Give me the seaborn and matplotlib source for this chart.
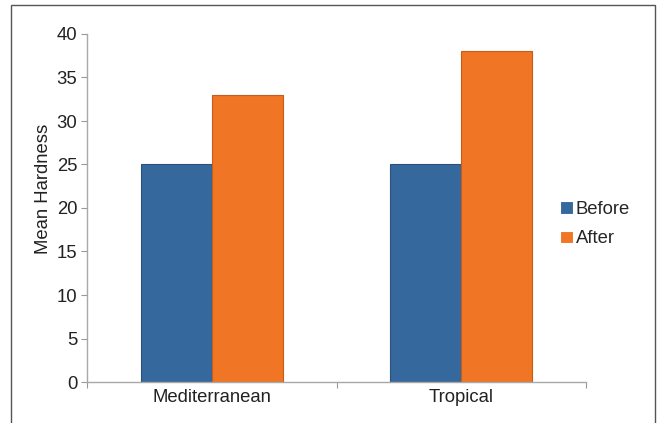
import pandas as pd
import matplotlib.pyplot as plt
import seaborn as sns
from matplotlib.patches import Rectangle

# Datos
regions = ['Mediterranean', 'Tropical']
periods = ['Before', 'After']
before = [25, 25]
after = [33, 38]

df = pd.DataFrame({
    'Region': regions * 2,
    'Period': ['Before'] * 2 + ['After'] * 2,
    'Hardness': before + after,
})

sns.set_style('white')
plt.rcParams['font.family'] = ['Liberation Sans', 'DejaVu Sans']

colors = ['#35689c', '#f07524']
edges = ['#2a527b', '#c45c1a']
fs = 13.3

fig = plt.figure(figsize=(6.57, 4.23), dpi=100)
ax = fig.add_axes([87/657, 1 - 382/423, (586 - 87)/657, (382 - 34)/423])

sns.barplot(data=df, x='Region', y='Hardness', hue='Period', hue_order=periods,
            palette=colors, saturation=1, width=0.57, gap=0, ax=ax, linewidth=0.8)

# bordes algo mas oscuros
for cont, ec in zip(ax.containers, edges):
    for bar in cont:
        bar.set_edgecolor(ec)

ax.set_ylim(0, 40)
ax.set_xlim(-0.5, 1.5)
ax.set_yticks(range(0, 41, 5))
ax.set_xticks([-0.5, 0.5, 1.5])
ax.set_xticklabels(['', '', ''])
ax.set_xticks([0, 1], minor=True)
ax.set_xticklabels(regions, minor=True)
ax.tick_params(axis='x', which='minor', length=0, pad=5, labelsize=fs, colors='#222222')
ax.tick_params(axis='x', which='major', length=4, direction='out', color='#999999', bottom=True)
ax.tick_params(axis='y', length=4, direction='out', color='#999999', left=True,
               labelsize=fs, labelcolor='#222222', pad=3)

ax.set_xlabel('')
ax.set_ylabel('Mean Hardness', fontsize=fs, color='#222222')
ax.yaxis.set_label_coords(-0.07, 0.555)

sns.despine(ax=ax)
for s in ['left', 'bottom']:
    ax.spines[s].set_color('#a8a8a8')
    ax.spines[s].set_linewidth(1)

ax.legend(loc='center left', bbox_to_anchor=(551/657, 1 - 224/423), bbox_transform=fig.transFigure,
          frameon=False, fontsize=fs, handlelength=0.7, handleheight=0.7,
          handletextpad=0.15, labelspacing=0.7, borderpad=0)

# marco de la figura
fig.patches.append(Rectangle((11/657, -0.05), (655 - 11)/657, 1.05 - 5/423,
                             transform=fig.transFigure, fill=False,
                             edgecolor='#555555', linewidth=1))

fig.savefig('out.png', dpi=100)
